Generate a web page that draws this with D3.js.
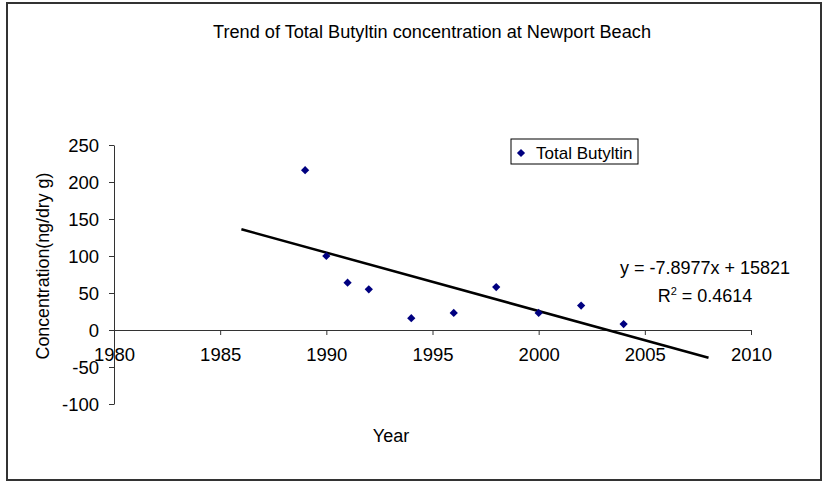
<!DOCTYPE html>
<html>
<head>
<meta charset="utf-8">
<script src="https://cdn.jsdelivr.net/npm/d3@7"></script>
<style>
  html, body { margin: 0; padding: 0; background: #fff; }
  svg { display: block; font-family: "Liberation Sans", Arial, sans-serif; }
</style>
</head>
<body>
<svg id="chart" width="822" height="481"></svg>
<script>
const years = [1989, 1990, 1991, 1992, 1994, 1996, 1998, 2000, 2002, 2004];
const values = [216, 100, 64, 55, 16, 23, 58, 23, 33, 8];

const xTicks = [1980, 1985, 1990, 1995, 2000, 2005, 2010];
const yTicks = [-100, -50, 0, 50, 100, 150, 200, 250];

// trendline as printed on the chart
const slope = -7.8977;
const intercept = 15821;
const trendYears = [1986, 2008];

const svg = d3.select("#chart");

// outer chart border
svg.append("rect")
  .attr("x", 7)
  .attr("y", 3)
  .attr("width", 814)
  .attr("height", 477)
  .attr("fill", "none")
  .attr("stroke", "#333")
  .attr("stroke-width", 2);

const x = d3.scaleLinear().domain([1980, 2010]).range([114, 751]);
const y = d3.scaleLinear().domain([-100, 250]).range([404, 145]);

const plain = d => String(d);

// y axis
const yAxis = svg.append("g")
  .attr("transform", `translate(${x(1980)},0)`)
  .call(d3.axisLeft(y).tickValues(yTicks).tickFormat(plain).tickSize(5).tickSizeOuter(0).tickPadding(10));

// x axis sits on zero
const xAxis = svg.append("g")
  .attr("transform", `translate(0,${y(0)})`)
  .call(d3.axisBottom(x).tickValues(xTicks).tickFormat(plain).tickSize(5).tickSizeOuter(0).tickPadding(13));

[yAxis, xAxis].forEach(ax => {
  ax.select(".domain").attr("stroke", "#333");
  ax.selectAll(".tick line").attr("stroke", "#333");
  ax.selectAll("text")
    .attr("fill", "#000")
    .style("font-family", "'Liberation Sans', Arial, sans-serif")
    .style("font-size", "18.5px");
});
yAxis.selectAll("text").attr("dy", "0.36em");

// trend line
const line = d3.line()
  .x(d => x(d))
  .y(d => y(slope * d + intercept));

svg.append("path")
  .datum(trendYears)
  .attr("d", line)
  .attr("fill", "none")
  .attr("stroke", "#000")
  .attr("stroke-width", 2.5);

// data points (square turned 45 degrees)
const diamond = d3.symbol().type(d3.symbolSquare).size(34);

svg.selectAll("path.pt")
  .data(years)
  .enter()
  .append("path")
  .attr("class", "pt")
  .attr("d", diamond)
  .attr("transform", (d, i) => `translate(${x(d)},${y(values[i])}) rotate(45)`)
  .attr("fill", "#000080");

// title
svg.append("text")
  .attr("x", 432)
  .attr("y", 38)
  .attr("text-anchor", "middle")
  .attr("textLength", 438)
  .attr("lengthAdjust", "spacingAndGlyphs")
  .style("font-size", "17.5px")
  .text("Trend of Total Butyltin concentration at Newport Beach");

// axis titles
svg.append("text")
  .attr("transform", "translate(49,266) rotate(-90)")
  .attr("text-anchor", "middle")
  .style("font-size", "17.8px")
  .text("Concentration(ng/dry g)");

svg.append("text")
  .attr("x", 391)
  .attr("y", 442)
  .attr("text-anchor", "middle")
  .style("font-size", "18px")
  .text("Year");

// legend
const legend = svg.append("g");
legend.append("rect")
  .attr("x", 511)
  .attr("y", 139)
  .attr("width", 127)
  .attr("height", 25)
  .attr("fill", "#fff")
  .attr("stroke", "#000")
  .attr("stroke-width", 1);
legend.append("path")
  .attr("d", diamond)
  .attr("transform", "translate(521,153) rotate(45)")
  .attr("fill", "#000080");
legend.append("text")
  .attr("x", 536)
  .attr("y", 159)
  .style("font-size", "17px")
  .text("Total Butyltin");

// equation label
svg.append("text")
  .attr("x", 705)
  .attr("y", 274)
  .attr("text-anchor", "middle")
  .style("font-size", "18px")
  .text(`y = ${slope}x + ${intercept}`);

const r2 = svg.append("text")
  .attr("x", 705)
  .attr("y", 302)
  .attr("text-anchor", "middle")
  .style("font-size", "18px");
r2.append("tspan").text("R");
r2.append("tspan").attr("dy", -7).style("font-size", "11px").text("2");
r2.append("tspan").attr("dy", 7).text(" = 0.4614");
</script>
</body>
</html>
